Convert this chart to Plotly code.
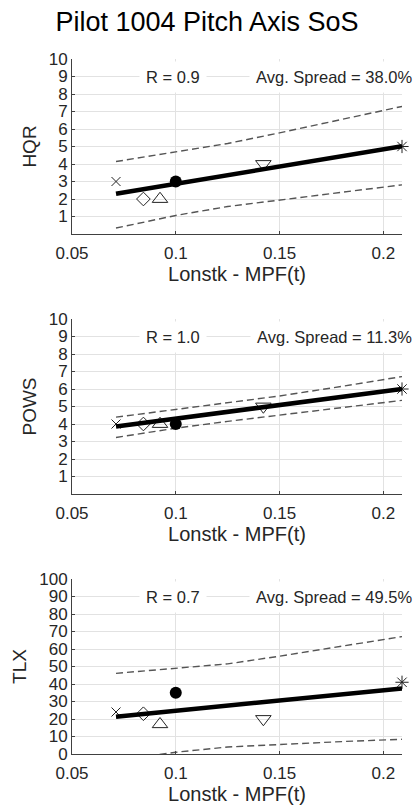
import plotly.graph_objects as go

# ---- data ----
x_vals = [0.0712, 0.0844, 0.0924, 0.1, 0.1422, 0.209]
marker_symbols = ["x-thin-open", "diamond-open", "triangle-up-open", "circle", "triangle-down-open", "asterisk-open"]
marker_sizes = [9, 10.5, 13.5, 12, 13.5, 11]

hqr = [3, 2, 2, 3, 4, 5]
pows = [4, 4, 4, 4, 5, 6]
tlx = [24, 23, 17, 35, 20, 41]

fit_x = [0.0712, 0.209]
hqr_fit = [2.3, 5.02]
pows_fit = [3.86, 6.0]
tlx_fit = [21.3, 37.5]

band_x = [0.0712, 0.1, 0.125, 0.15, 0.18, 0.209]
hqr_upper = [4.14, 4.71, 5.17, 5.78, 6.55, 7.29]
hqr_lower = [0.34, 1.06, 1.57, 1.93, 2.37, 2.81]
pows_upper = [4.39, 4.82, 5.21, 5.60, 6.15, 6.71]
pows_lower = [3.23, 3.76, 4.15, 4.50, 4.93, 5.35]
tlx_upper = [46.1, 48.9, 51.5, 55.9, 61.5, 67.1]
tlx_lower = [-3.5, 1.0, 4.0, 5.6, 7.1, 8.4]

metrics = ["HQR", "POWS", "TLX"]
r_texts = ["R = 0.9", "R = 1.0", "R = 0.7"]
spread_texts = ["Avg. Spread = 38.0%", "Avg. Spread = 11.3%", "Avg. Spread = 49.5%"]
x_ticks = [0.05, 0.1, 0.15, 0.2]
x_ticktext = ["0.05", "0.1", "0.15", "0.2"]
y_ticks_small = [1, 2, 3, 4, 5, 6, 7, 8, 9, 10]
y_ticks_tlx = [0, 10, 20, 30, 40, 50, 60, 70, 80, 90, 100]

series = [hqr, pows, tlx]
fits = [hqr_fit, pows_fit, tlx_fit]
uppers = [hqr_upper, pows_upper, tlx_upper]
lowers = [hqr_lower, pows_lower, tlx_lower]
y_ranges = [[0, 10], [0, 10], [0, 100]]
y_tickvals = [y_ticks_small, y_ticks_small, y_ticks_tlx]

W, H = 414, 810
FONT = "Liberation Sans, Arial, sans-serif"
# plot area pixel positions (left, right, top, bottom)
px_left, px_right = 72, 402
px_tops = [59, 319, 579]
px_bottoms = [234, 494, 754]

fig = go.Figure()
layout = dict(
    width=W, height=H,
    margin=dict(l=0, r=0, t=0, b=0),
    paper_bgcolor="white", plot_bgcolor="white",
    showlegend=False,
    font=dict(family=FONT, size=16, color="#262626"),
    title=dict(text="Pilot 1004 Pitch Axis SoS", x=0.5, xanchor="center",
               y=1 - 22 / H, yanchor="middle",
               font=dict(family=FONT, size=27, color="#000000")),
    annotations=[],
)

for i in range(3):
    sfx = "" if i == 0 else str(i + 1)
    xa, ya = "x" + sfx, "y" + sfx
    # dashed bands
    for band in (uppers[i], lowers[i]):
        fig.add_trace(go.Scatter(x=band_x, y=band, mode="lines", xaxis=xa, yaxis=ya,
                                 line=dict(color="#555555", width=1.4, dash="7px,4px"),
                                 hoverinfo="skip"))
    # markers
    for j in range(len(x_vals)):
        filled = marker_symbols[j] == "circle"
        fig.add_trace(go.Scatter(x=[x_vals[j]], y=[series[i][j]], mode="markers",
                                 xaxis=xa, yaxis=ya, cliponaxis=False,
                                 marker=dict(symbol=marker_symbols[j], size=marker_sizes[j],
                                             color="#000000" if filled else "#222222",
                                             line=dict(width=1 if not filled else 0,
                                                       color="#222222"))))
    # fit line
    fig.add_trace(go.Scatter(x=fit_x, y=fits[i], mode="lines", xaxis=xa, yaxis=ya,
                             line=dict(color="#000000", width=4.5)))

    dom_x = [px_left / W, px_right / W]
    dom_y = [1 - px_bottoms[i] / H, 1 - px_tops[i] / H]
    layout["xaxis" + sfx] = dict(
        domain=dom_x, anchor=ya, range=[0.05, 0.209],
        tickvals=x_ticks, ticktext=x_ticktext,
        showgrid=True, gridcolor="#e2e2e2", gridwidth=1,
        showline=True, linecolor="#404040", linewidth=1, mirror=False,
        ticks="inside", ticklen=3, tickcolor="#404040",
        tickfont=dict(family=FONT, size=17, color="#262626"),
        ticklabelstandoff=4,
        zeroline=False, automargin=False,
        title=dict(text="Lonstk - MPF(t)", standoff=0,
                   font=dict(family=FONT, size=20, color="#262626")),
    )
    layout["yaxis" + sfx] = dict(
        domain=dom_y, anchor=xa, range=y_ranges[i],
        tickvals=y_tickvals[i],
        showgrid=True, gridcolor="#e2e2e2", gridwidth=1,
        showline=True, linecolor="#404040", linewidth=1, mirror=False,
        ticks="inside", ticklen=3, tickcolor="#404040",
        tickfont=dict(family=FONT, size=17, color="#262626"),
        ticklabelstandoff=0,
        zeroline=False, automargin=False,
        title=dict(text=metrics[i], standoff=7,
                   font=dict(family=FONT, size=19, color="#262626")),
    )
    ytext = y_ranges[i][1] * 0.9
    layout["annotations"].append(dict(
        text=r_texts[i], xref=xa, yref=ya, x=0.0985, y=ytext,
        xanchor="center", yanchor="middle", showarrow=False,
        bgcolor="white", borderpad=6,
        font=dict(family=FONT, size=16.5, color="#262626")))
    layout["annotations"].append(dict(
        text=spread_texts[i], xref=xa, yref=ya, x=0.209, y=ytext,
        xanchor="right", yanchor="middle", showarrow=False, xshift=17,
        bgcolor="white", borderpad=6,
        font=dict(family=FONT, size=16.5, color="#262626")))

fig.update_layout(**layout)
fig.write_html("out.html")
